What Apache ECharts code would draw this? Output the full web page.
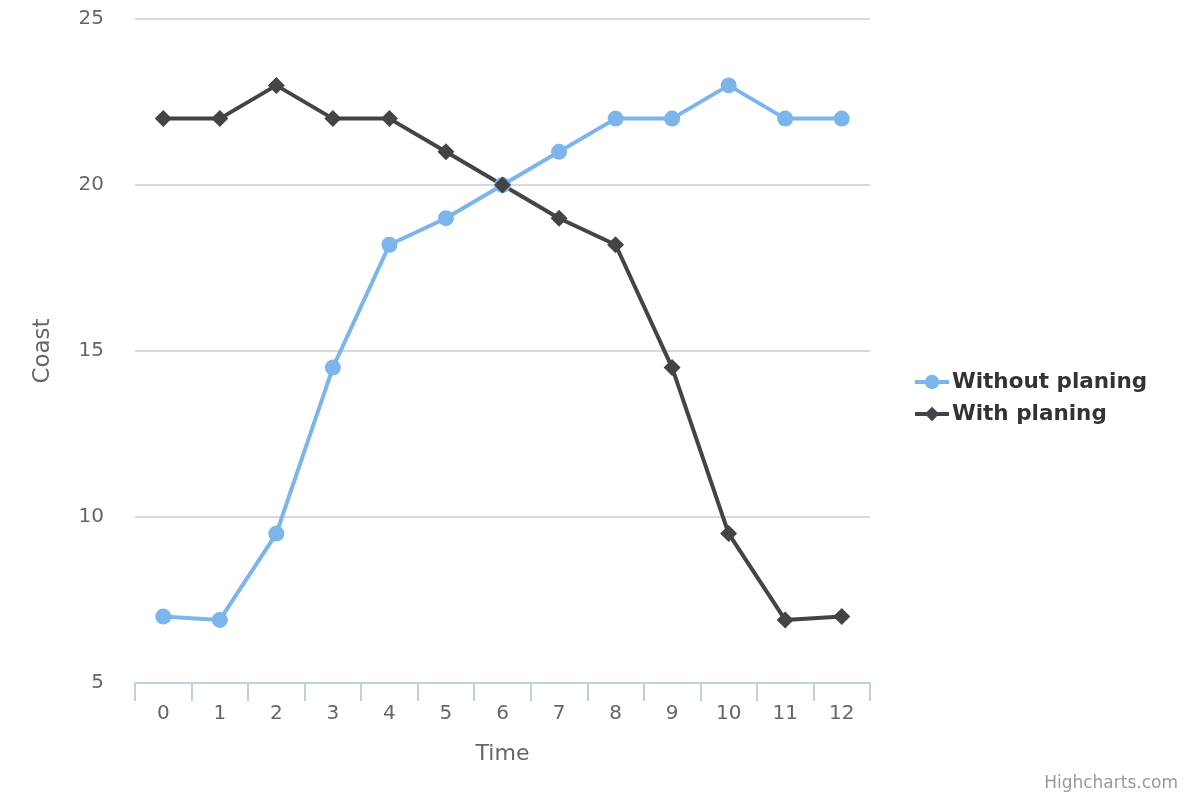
<!DOCTYPE html>
<html>
<head>
<meta charset="utf-8">
<script src="https://cdn.jsdelivr.net/npm/echarts@6/dist/echarts.min.js"></script>
<style>
  html, body { margin: 0; padding: 0; background: #fff; }
  #chart { width: 1200px; height: 800px; }
</style>
</head>
<body>
<div id="chart"></div>
<script>
var categories = ['0', '1', '2', '3', '4', '5', '6', '7', '8', '9', '10', '11', '12'];
var withoutPlaning = [7, 6.9, 9.5, 14.5, 18.2, 19, 20, 21, 22, 22, 23, 22, 22];
var withPlaning = [22, 22, 23, 22, 22, 21, 20, 19, 18.2, 14.5, 9.5, 6.9, 7];

var myChart = echarts.init(document.getElementById('chart'));

var font = 'DejaVu Sans, Verdana, sans-serif';

var option = {
    animation: false,
    textStyle: { fontFamily: font },
    grid: { left: 135, right: 330, top: 19, bottom: 117, containLabel: false },
    legend: {
        orient: 'vertical',
        left: 908,
        top: 366,
        itemWidth: 34,
        itemHeight: 18,
        itemGap: 10,
        lineStyle: { width: 4 },
        textStyle: { fontSize: 21.5, fontWeight: 'bold', color: '#333', fontFamily: font, padding: [0, 0, 0, -2] },
        data: ['Without planing', 'With planing']
    },
    graphic: [{
        type: 'text',
        right: 22,
        bottom: 8,
        style: { text: 'Highcharts.com', fontSize: 17, fill: '#999', fontFamily: font }
    }],
    xAxis: {
        type: 'category',
        data: categories,
        boundaryGap: true,
        name: 'Time',
        nameLocation: 'middle',
        nameGap: 60,
        nameTextStyle: { fontSize: 22, color: '#666' },
        axisLine: { lineStyle: { color: '#c0d0e0', width: 2 } },
        axisTick: { show: true, length: 18, lineStyle: { color: '#c0d0e0', width: 2 } },
        axisLabel: { fontSize: 20, color: '#666', margin: 21 },
        splitLine: { show: false }
    },
    yAxis: {
        type: 'value',
        min: 5,
        max: 25,
        interval: 5,
        name: 'Coast',
        nameLocation: 'middle',
        nameGap: 80,
        nameTextStyle: { fontSize: 23, color: '#666' },
        axisLine: { show: false },
        axisTick: { show: false },
        axisLabel: { fontSize: 20, color: '#666', margin: 31 },
        splitLine: { lineStyle: { color: '#d8d8d8', width: 2 } }
    },
    series: [{
        name: 'Without planing',
        type: 'line',
        data: withoutPlaning,
        symbol: 'circle',
        symbolSize: 16,
        lineStyle: { color: '#7cb5ec', width: 4 },
        itemStyle: { color: '#7cb5ec' }
    }, {
        name: 'With planing',
        type: 'line',
        data: withPlaning,
        symbol: 'diamond',
        symbolSize: 17,
        lineStyle: { color: '#434348', width: 4 },
        itemStyle: { color: '#434348' }
    }]
};

myChart.setOption(option);
</script>
</body>
</html>
